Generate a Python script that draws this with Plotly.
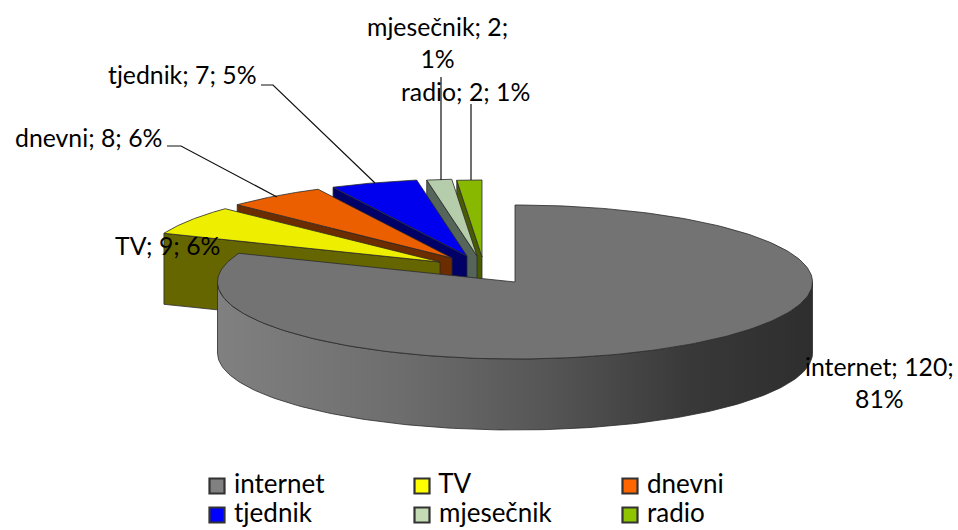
import numpy as np
import plotly.graph_objects as go

# ---- data ----
categories = ["internet", "TV", "dnevni", "tjednik", "mjesečnik", "radio"]
values = [120, 9, 8, 7, 2, 2]
percents = [81, 6, 6, 5, 1, 1]

# ---- styling ----
top_colors = ["#737373", "#eeee00", "#ec5f00", "#0000ee", "#b5cdaa", "#88b800"]
wall_colors = ["#5a5a5a", "#666600", "#6b2c00", "#000066", "#55655a", "#4a5c00"]
legend_colors = ["#808080", "#ffff00", "#ff6600", "#0000ff", "#c4dcb4", "#8fc400"]
apexes = [(515, 282), (440, 262), (452, 258), (467, 256), (477, 256), (482, 257)]
RX, RY, DEPTH = 297.5, 77, 71
EDGE = "#2a2a2a"
FONT = "Lato"
FS = 24.8

W, H = 958, 530
fig = go.Figure()

total = sum(values)
edges = np.concatenate([[0], np.cumsum(values)]) / total * 2 * np.pi


def rim(c, t0, t1, n=80, dy=0):
    t = np.linspace(t0, t1, n)
    return c[0] + RX * np.sin(t), c[1] - RY * np.cos(t) + dy


def poly(xs, ys, color, **kw):
    fig.add_trace(go.Scatter(x=list(xs), y=list(ys), mode="lines", fill="toself",
                             fillcolor=color, line=dict(color=EDGE, width=0.8),
                             hoverinfo="skip", showlegend=False, **kw))


# exploded slices, back to front
for i in range(len(values) - 1, 0, -1):
    c = apexes[i]
    t0, t1 = edges[i], edges[i + 1]
    sx, sy = rim(c, t0, t0, 1)
    poly([sx[0], c[0], c[0], sx[0], sx[0]],
         [sy[0], c[1], c[1] + DEPTH, sy[0] + DEPTH, sy[0]], wall_colors[i])
    ax, ay = rim(c, t0, t1)
    poly(np.r_[c[0], ax, c[0]], np.r_[c[1], ay, c[1]], top_colors[i])

# large slice: front wall with gradient, then top face
c = apexes[0]
ux, uy = rim(c, np.pi / 2, 3 * np.pi / 2, 160)
lx, ly = rim(c, 3 * np.pi / 2, np.pi / 2, 160, dy=DEPTH)
fig.add_trace(go.Scatter(
    x=np.r_[ux, lx, ux[0]], y=np.r_[uy, ly, uy[0]], mode="lines", fill="toself",
    line=dict(color=EDGE, width=0.8), hoverinfo="skip", showlegend=False,
    fillgradient=dict(type="horizontal", start=c[0] - RX, stop=c[0] + RX,
                      colorscale=[[0, "#808080"], [0.3, "#6e6e6e"], [0.55, "#565656"],
                                  [0.8, "#383838"], [1, "#2e2e2e"]])))
ax, ay = rim(c, edges[0], edges[1], 240)
poly(np.r_[c[0], ax, c[0]], np.r_[c[1], ay, c[1]], top_colors[0])

# legend drawn from the category list
leg_x = [217, 217 + 205, 217 + 413]
leg_y = [486, 515]
for i, name in enumerate(categories):
    fig.add_trace(go.Scatter(
        x=[leg_x[i % 3]], y=[leg_y[i // 3]], mode="markers+text", text=[" " + name],
        textposition="middle right", textfont=dict(family=FONT, size=FS + 1.2, color="#000"),
        marker=dict(symbol="square", size=15, color=legend_colors[i],
                    line=dict(color="#333333", width=2.2)),
        hoverinfo="skip", showlegend=False, cliponaxis=False))

# data labels
labels = [
    ("internet; %d;<br>%d%%" % (values[0], percents[0]), 879, 382),
    ("%s; %d; %d%%" % (categories[1], values[1], percents[1]), 167, 245),
    ("%s; %d; %d%%" % (categories[2], values[2], percents[2]), 88, 137),
    ("%s; %d; %d%%" % (categories[3], values[3], percents[3]), 182, 74),
    ("%s; %d;<br>%d%%" % (categories[4], values[4], percents[4]), 437, 42),
    ("%s; %d; %d%%" % (categories[5], values[5], percents[5]), 465, 91),
]
for text, x, y in labels:
    fig.add_annotation(x=x, y=y, text=text, showarrow=False, xanchor="center", yanchor="middle",
                       font=dict(family=FONT, size=FS, color="#000"), align="center")

# leader lines
leaders = [
    [(167, 146), (181, 146), (277, 197)],
    [(261, 85), (273, 85), (375, 183)],
    [(441, 77), (441, 180)],
    [(471, 104), (471, 180)],
]
for pts in leaders:
    fig.add_trace(go.Scatter(x=[p[0] for p in pts], y=[p[1] for p in pts], mode="lines",
                             line=dict(color="#111", width=1.2), hoverinfo="skip", showlegend=False))

fig.update_layout(
    width=W, height=H, margin=dict(l=0, r=0, t=0, b=0),
    paper_bgcolor="white", plot_bgcolor="white", showlegend=False,
    xaxis=dict(range=[0, W], visible=False, fixedrange=True),
    yaxis=dict(range=[H, 0], visible=False, fixedrange=True),
)
fig.write_html("out.html", config=dict(displayModeBar=False),
               post_script="document.body.style.margin='0';document.body.style.overflow='hidden';")
